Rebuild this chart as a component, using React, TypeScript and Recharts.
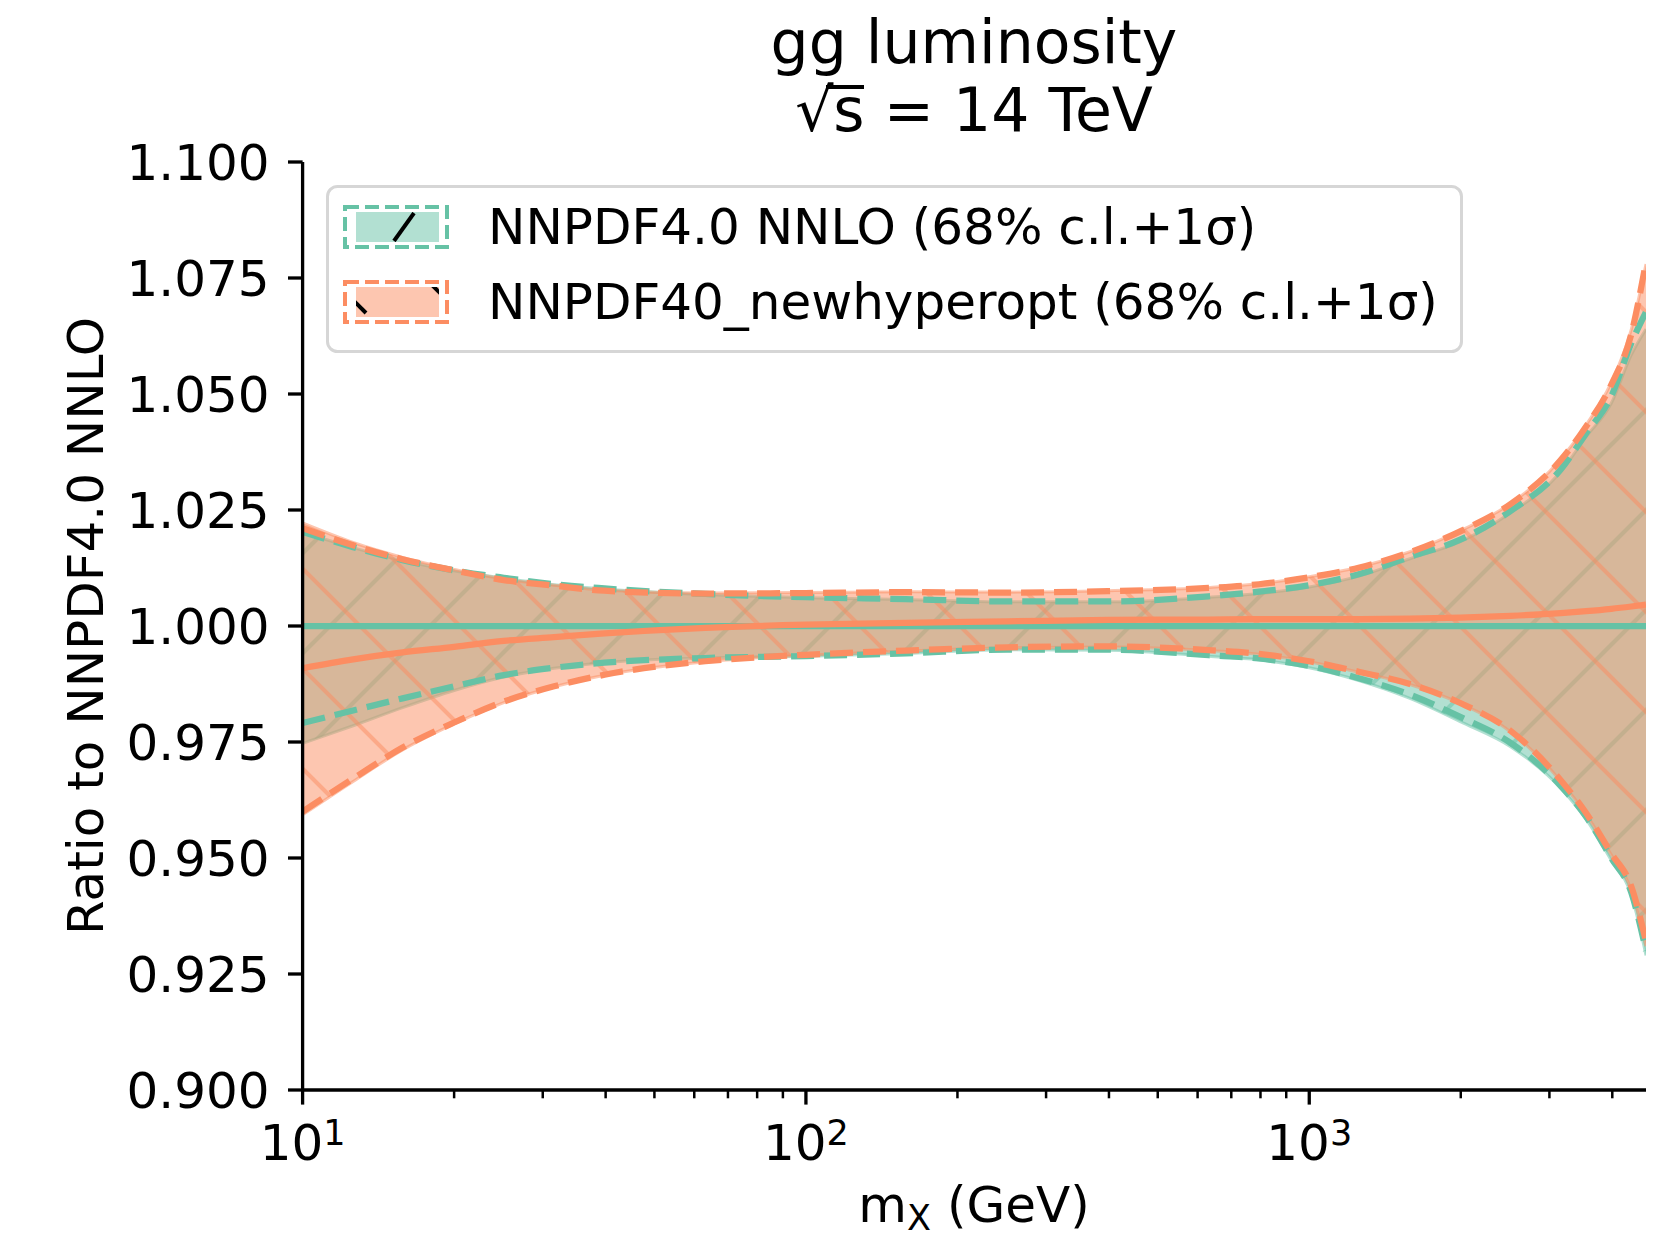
import React from "react";
import { ComposedChart, Area, Line, XAxis, YAxis, Legend } from "recharts";

const FONT = "DejaVu Sans";
const GREEN = "#66c2a5";
const ORANGE = "#fc8d62";

// invariant mass m_X (GeV)
const MX = [10, 12.6, 15.8, 20, 25.1, 31.6, 39.8, 63.1, 100, 158, 251, 398, 631, 794, 1000, 1259, 1585, 1995, 2512, 3162, 3548, 3981, 4365, 4667];

// NNPDF4.0 NNLO (reference, ratio to itself)
const REF_CENTRAL = [1, 1, 1, 1, 1, 1, 1, 1, 1, 1, 1, 1, 1, 1, 1, 1, 1, 1, 1, 1, 1, 1, 1, 1];
const REF_HI68 = [1.0202, 1.0169, 1.0141, 1.0119, 1.0103, 1.0089, 1.008, 1.0068, 1.0061, 1.0057, 1.0052, 1.0052, 1.0062, 1.007, 1.0084, 1.0108, 1.0145, 1.0182, 1.0244, 1.0333, 1.0408, 1.048, 1.0585, 1.064];
const REF_LO68 = [0.9747, 0.9785, 0.9824, 0.9861, 0.989, 0.9909, 0.9921, 0.9931, 0.9935, 0.9941, 0.9949, 0.9948, 0.9935, 0.9927, 0.991, 0.9882, 0.9844, 0.9794, 0.974, 0.965, 0.9584, 0.9495, 0.942, 0.929];
const REF_HI1S = [1.0203, 1.017, 1.0142, 1.012, 1.0104, 1.009, 1.0081, 1.0069, 1.0062, 1.0058, 1.0053, 1.0053, 1.0064, 1.0074, 1.0088, 1.0112, 1.0149, 1.0186, 1.0248, 1.0338, 1.0415, 1.0495, 1.061, 1.0677];
const REF_LO1S = [0.9791, 0.9818, 0.9844, 0.987, 0.9894, 0.991, 0.9921, 0.9931, 0.9935, 0.9941, 0.9949, 0.9949, 0.9937, 0.993, 0.9914, 0.9887, 0.9852, 0.9804, 0.9748, 0.9655, 0.9589, 0.95, 0.9425, 0.93];

// NNPDF40_newhyperopt
const HYP_CENTRAL = [0.9909, 0.9928, 0.9943, 0.9955, 0.9968, 0.9976, 0.9984, 0.9996, 1.0003, 1.0007, 1.001, 1.0013, 1.0014, 1.0015, 1.0015, 1.0015, 1.0016, 1.0018, 1.0022, 1.0028, 1.0032, 1.0037, 1.0042, 1.0046];
const HYP_HI68 = [1.0222, 1.018, 1.0148, 1.0122, 1.0101, 1.0088, 1.0077, 1.0071, 1.0072, 1.0074, 1.0073, 1.0076, 1.0083, 1.0091, 1.0106, 1.0127, 1.016, 1.0205, 1.0264, 1.036, 1.0433, 1.0525, 1.064, 1.078];
const HYP_LO68 = [0.9593, 0.9665, 0.9733, 0.9789, 0.9835, 0.9869, 0.9894, 0.9923, 0.9937, 0.9946, 0.9953, 0.9955, 0.9947, 0.9939, 0.9923, 0.99, 0.9874, 0.9833, 0.9772, 0.9665, 0.9594, 0.9507, 0.943, 0.931];
const HYP_HI1S = [1.0211, 1.0174, 1.0144, 1.012, 1.0099, 1.0087, 1.0076, 1.007, 1.0071, 1.0073, 1.0072, 1.0075, 1.0082, 1.009, 1.0105, 1.0126, 1.0159, 1.0204, 1.0263, 1.0358, 1.043, 1.052, 1.063, 1.0785];
const HYP_LO1S = [0.96, 0.9671, 0.9738, 0.9792, 0.9837, 0.987, 0.9895, 0.9924, 0.9938, 0.9947, 0.9954, 0.9956, 0.9948, 0.994, 0.9924, 0.9901, 0.9875, 0.9834, 0.9774, 0.9667, 0.9597, 0.951, 0.9438, 0.932];

const X_TICKS = [10, 20, 30, 40, 50, 60, 70, 80, 90, 100, 200, 300, 400, 500, 600, 700, 800, 900, 1000, 2000, 3000, 4000];
const X_DECADES: { [k: number]: string } = { 10: "1", 100: "2", 1000: "3" };
const Y_TICKS = [0.9, 0.925, 0.95, 0.975, 1.0, 1.025, 1.05, 1.075, 1.1];

const LABEL_REF = "NNPDF4.0 NNLO (68% c.l.+1σ)";
const LABEL_HYP = "NNPDF40_newhyperopt (68% c.l.+1σ)";

const data = MX.map((mx, i) => ({
  mx,
  refC: REF_CENTRAL[i],
  refBand: [REF_LO68[i], REF_HI68[i]],
  refHi: REF_HI1S[i],
  refLo: REF_LO1S[i],
  hypC: HYP_CENTRAL[i],
  hypBand: [HYP_LO68[i], HYP_HI68[i]],
  hypHi: HYP_HI1S[i],
  hypLo: HYP_LO1S[i],
}));

const XTick = (props: any) => {
  const { x, y, payload } = props;
  const exp = X_DECADES[payload.value];
  if (!exp) {
    return <line x1={x} x2={x} y1={y} y2={y + 8.3} stroke="#000" strokeWidth={2.5} />;
  }
  return (
    <g>
      <line x1={x} x2={x} y1={y} y2={y + 14.6} stroke="#000" strokeWidth={3.3} />
      <text x={x} y={y + 70} textAnchor="middle" fontFamily={FONT} fontSize={50} fill="#000">
        10<tspan dy={-15} fontSize={35}>{exp}</tspan>
      </text>
    </g>
  );
};

const YTick = (props: any) => {
  const { x, y, payload } = props;
  return (
    <g>
      <line x1={x - 14.6} x2={x} y1={y} y2={y} stroke="#000" strokeWidth={3.3} />
      <text x={x - 33} y={y + 18} textAnchor="end" fontFamily={FONT} fontSize={50} fill="#000">
        {Number(payload.value).toFixed(3)}
      </text>
    </g>
  );
};

const LegendBox = () => (
  <svg width={1140} height={170} style={{ display: "block" }}>
    <defs>
      <clipPath id="lgRef">
        <rect x={30} y={27} width={83} height={30} />
      </clipPath>
      <clipPath id="lgHyp">
        <rect x={30} y={102} width={83} height={30} />
      </clipPath>
    </defs>
    <rect x={1.5} y={1.5} width={1134} height={165} rx={10} fill="#fff" fillOpacity={0.8} stroke="#d6d6d6" strokeWidth={3} />
    {/* NNPDF4.0 entry */}
    <rect x={30} y={27} width={83} height={30} fill={GREEN} fillOpacity={0.5} />
    <line x1={68} x2={88} y1={56} y2={28} stroke="#000" strokeWidth={4} clipPath="url(#lgRef)" />
    <rect x={19} y={22} width={102} height={40} fill="none" stroke={GREEN} strokeWidth={4} strokeDasharray="14 6" />
    <text x={162} y={59} fontFamily={FONT} fontSize={50} fill="#000">{LABEL_REF}</text>
    {/* newhyperopt entry */}
    <rect x={30} y={102} width={83} height={30} fill={ORANGE} fillOpacity={0.5} />
    <g clipPath="url(#lgHyp)" stroke="#000" strokeWidth={4}>
      <line x1={96} x2={126} y1={90} y2={120} />
      <line x1={0} x2={40} y1={88} y2={128} />
    </g>
    <rect x={19} y={97} width={102} height={40} fill="none" stroke={ORANGE} strokeWidth={4} strokeDasharray="14 6" />
    <text x={162} y={134} fontFamily={FONT} fontSize={50} fill="#000">{LABEL_HYP}</text>
  </svg>
);

export default function App() {
  return (
    <div style={{ width: 1671, height: 1237, background: "#fff" }}>
      <style>{"body{margin:0;}"}</style>
      <ComposedChart width={1671} height={1237} data={data} margin={{ top: 162, right: 25, bottom: 0, left: 0 }}>
        <defs>
          <pattern id="hatchRef" patternUnits="userSpaceOnUse" width={100} height={100} patternTransform="translate(0,56)">
            <rect width={100} height={100} fill={GREEN} fillOpacity={0.5} />
            <path d="M-10,10 L10,-10 M0,100 L100,0 M90,110 L110,90" stroke={GREEN} strokeOpacity={0.5} strokeWidth={4.2} />
          </pattern>
          <pattern id="hatchHyp" patternUnits="userSpaceOnUse" width={100} height={100} patternTransform="translate(0,66)">
            <rect width={100} height={100} fill={ORANGE} fillOpacity={0.5} />
            <path d="M-10,90 L10,110 M0,0 L100,100 M90,-10 L110,10" stroke={ORANGE} strokeOpacity={0.5} strokeWidth={4.2} />
          </pattern>
        </defs>
        <XAxis
          dataKey="mx"
          type="number"
          scale="log"
          domain={[10, 4667]}
          allowDataOverflow
          ticks={X_TICKS}
          interval={0}
          tick={XTick}
          tickSize={0}
          tickMargin={0}
          tickLine={false}
          height={147}
          axisLine={{ stroke: "#000", strokeWidth: 3.3 }}
        />
        <YAxis
          type="number"
          domain={[0.9, 1.1]}
          allowDataOverflow
          ticks={Y_TICKS}
          interval={0}
          tick={YTick}
          tickSize={0}
          tickMargin={0}
          tickLine={false}
          width={302.6}
          axisLine={{ stroke: "#000", strokeWidth: 3.3 }}
        />
        <Area type="monotone" dataKey="refBand" fill="url(#hatchRef)" fillOpacity={1} stroke={GREEN} strokeOpacity={0.5} strokeWidth={3} isAnimationActive={false} />
        <Area type="monotone" dataKey="hypBand" fill="url(#hatchHyp)" fillOpacity={1} stroke={ORANGE} strokeOpacity={0.5} strokeWidth={3} isAnimationActive={false} />
        <Line type="monotone" dataKey="refC" stroke={GREEN} strokeWidth={6.25} dot={false} isAnimationActive={false} />
        <Line type="monotone" dataKey="refHi" stroke={GREEN} strokeWidth={6.25} strokeDasharray="23 10" dot={false} isAnimationActive={false} />
        <Line type="monotone" dataKey="refLo" stroke={GREEN} strokeWidth={6.25} strokeDasharray="23 10" dot={false} isAnimationActive={false} />
        <Line type="monotone" dataKey="hypC" stroke={ORANGE} strokeWidth={6.25} dot={false} isAnimationActive={false} />
        <Line type="monotone" dataKey="hypHi" stroke={ORANGE} strokeWidth={6.25} strokeDasharray="23 10" dot={false} isAnimationActive={false} />
        <Line type="monotone" dataKey="hypLo" stroke={ORANGE} strokeWidth={6.25} strokeDasharray="23 10" dot={false} isAnimationActive={false} />
        <Legend
          layout="vertical"
          align="center"
          verticalAlign="middle"
          content={() => <LegendBox />}
          wrapperStyle={{ left: 326, top: 185, width: 1140, height: 170 }}
        />
        <text x={974} y={63} textAnchor="middle" fontFamily={FONT} fontSize={60} fill="#000">gg luminosity</text>
        <text x={974} y={131} textAnchor="middle" fontFamily={FONT} fontSize={60} fill="#000">√s = 14 TeV</text>
        {/* radical bar over s */}
        <line x1={826} x2={864} y1={87} y2={87} stroke="#000" strokeWidth={4} />
        <text x={103} y={626} transform="rotate(-90 103 626)" textAnchor="middle" fontFamily={FONT} fontSize={50} fill="#000">
          Ratio to NNPDF4.0 NNLO
        </text>
        <text x={974} y={1222} textAnchor="middle" fontFamily={FONT} fontSize={50} fill="#000">
          m<tspan dy={8} fontSize={35}>X</tspan><tspan dy={-8}> (GeV)</tspan>
        </text>
      </ComposedChart>
    </div>
  );
}
